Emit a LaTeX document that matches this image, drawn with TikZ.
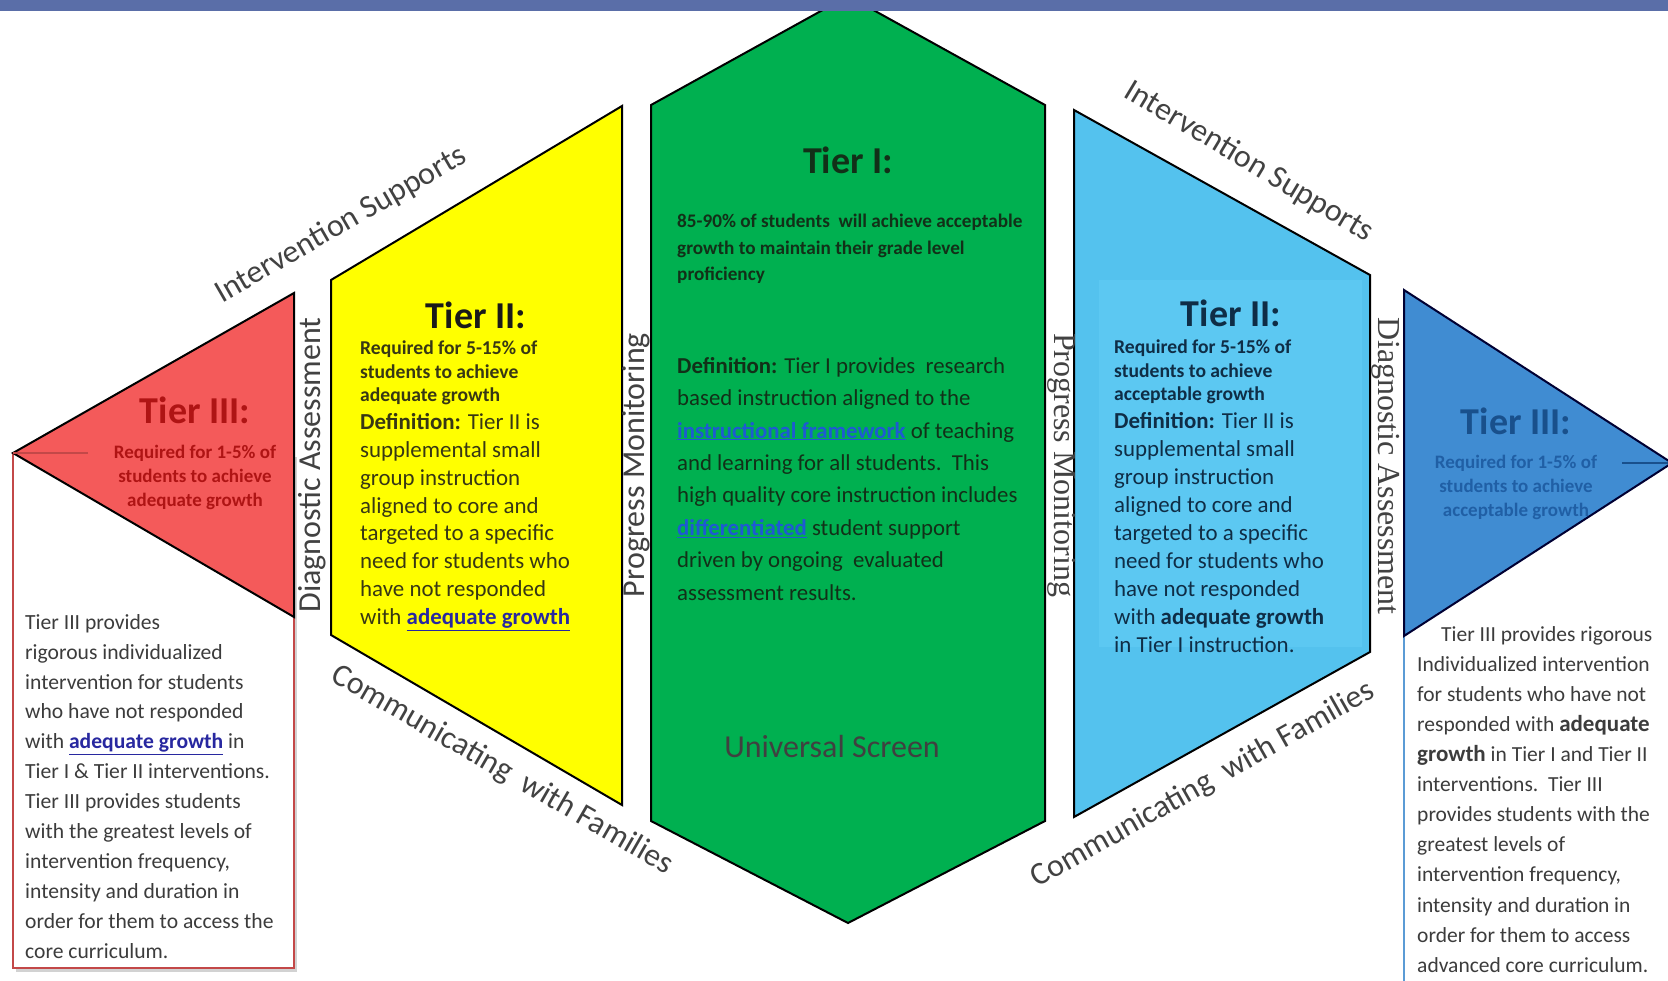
\documentclass[tikz,border=0pt]{standalone}
\usepackage{fontspec}
\setmainfont{Carlito}
\newfontfamily\serifl{Liberation Serif}
\usetikzlibrary{shadows}

\definecolor{tbar}{RGB}{90,110,168}
\definecolor{tgreen}{RGB}{0,176,80}
\definecolor{tyellow}{RGB}{255,255,0}
\definecolor{tlblue}{RGB}{84,194,238}
\definecolor{tlbox}{RGB}{92,200,242}
\definecolor{tred}{RGB}{244,90,90}
\definecolor{tdblue}{RGB}{64,140,210}
\definecolor{tgtext}{RGB}{18,48,24}
\definecolor{tglink}{RGB}{30,90,210}
\definecolor{tytext}{RGB}{55,55,20}
\definecolor{tylink}{RGB}{40,40,160}
\definecolor{tbtext}{RGB}{15,45,70}
\definecolor{trtext}{RGB}{175,20,20}
\definecolor{tdtext}{RGB}{25,80,140}
\definecolor{tdsub}{RGB}{32,95,165}
\definecolor{tboxtext}{RGB}{60,60,60}
\definecolor{tbline}{RGB}{91,155,213}

\newcommand{\fsz}[2]{\fontsize{#1}{#2}\selectfont}
\newcommand{\tierlink}[2]{{\color{#1}\bfseries\underline{#2}}}

\begin{document}
\begin{tikzpicture}[x=1pt,y=-1pt]
\tikzstyle{tier}=[draw=black,line width=2pt,line join=miter]
\tikzstyle{head}=[inner sep=0pt,font=\bfseries\fsz{38}{40}]
\tikzstyle{body}=[anchor=north west,align=left,inner sep=0pt]
\tikzstyle{side}=[inner sep=0pt,text=black!74,font=\fsz{32}{34}]

\clip (0,0) rectangle (1668,980);
\fill[white] (0,0) rectangle (1668,980);

% the five tiers
\draw[tier,fill=tgreen] (651,105) -- (848,-4) -- (1045,105) -- (1045,821) -- (848,923) -- (651,821) -- cycle;
\draw[tier,fill=tyellow] (331,280) -- (622,106) -- (622,805) -- (331,635) -- cycle;
\draw[tier,fill=tlblue] (1074,110) -- (1370,275) -- (1370,652) -- (1074,817) -- cycle;
\fill[tlbox] (1099,280) rectangle (1362,647);

\draw[draw=tred!80!black,line width=1.5pt,fill=white,drop shadow={shadow xshift=3pt,shadow yshift=-4pt,opacity=.35}] (13,453) rectangle (294,968);
\draw[tier,fill=tred] (13,453) -- (294,293) -- (294,617) -- cycle;
\draw[tred!80!black,line width=1.5pt] (13,453) -- (88,453);

\draw[tbline,line width=1.5pt,fill=white] (1404,463) rectangle (1720,1020);
\draw[tier,draw=black!80!blue,fill=tdblue] (1404,290) -- (1672,463) -- (1404,636) -- cycle;
\draw[tdtext,line width=1.5pt] (1622,463) -- (1668,463);

\fill[tbar] (0,0) rectangle (1668,11);

% Tier I
\node[head,text=tgtext] (t1) at (848,160) {Tier I:};
\node[body,text=tgtext,font=\bfseries\fsz{19.2}{26.6}] (t1req) at (677,214) {85-90\% of students\ \ will achieve acceptable\\growth to maintain their grade level\\proficiency};
\node[body,text=tgtext,font=\fsz{22.8}{32.4}] (t1def) at (677,357) {\textbf{Definition:} Tier I provides\ \ research\\based instruction aligned to the\\\tierlink{tglink}{instructional framework} of teaching\\and learning for all students.\ \ This\\high quality core instruction includes\\\tierlink{tglink}{differentiated} student support\\driven by ongoing\ \ evaluated\\assessment results.};
\node[inner sep=0pt,text=black!75,font=\fsz{32}{34}] (screen) at (832,746) {Universal Screen};

% Tier II left
\node[head,text=black!90] (t2l) at (476,315) {Tier II:};
\node[body,text=tytext,font=\bfseries\fsz{19.6}{23.4}] (t2lreq) at (360,341) {Required for 5-15\% of\\students to achieve\\adequate growth};
\node[body,text=tytext,font=\fsz{22.9}{27.9}] (t2ldef) at (360,413) {\textbf{Definition:} Tier II is\\supplemental small\\group instruction\\aligned to core and\\targeted to a specific\\need for students who\\have not responded\\with \tierlink{tylink}{adequate growth}};

% Tier II right
\node[head,text=tbtext] (t2r) at (1231,313) {Tier II:};
\node[body,text=tbtext,font=\bfseries\fsz{19.6}{23.4}] (t2rreq) at (1114,340) {Required for 5-15\% of\\students to achieve\\acceptable growth};
\node[body,text=tbtext,font=\fsz{22.9}{28}] (t2rdef) at (1114,412) {\textbf{Definition:} Tier II is\\supplemental small\\group instruction\\aligned to core and\\targeted to a specific\\need for students who\\have not responded\\with \textbf{adequate growth}\\in Tier I instruction.};

% Tier III left
\node[head,text=trtext] (t3l) at (195,410) {Tier III:};
\node[anchor=north,align=center,inner sep=0pt,text=trtext,font=\bfseries\fsz{19}{23.9}] (t3lreq) at (195,445) {Required for 1-5\% of\\students to achieve\\adequate growth};
\node[body,text=tboxtext,font=\fsz{21.6}{29.9}] (t3lbox) at (25,614) {Tier III provides\\rigorous individualized\\intervention for students\\who have not responded\\with \tierlink{tylink}{adequate growth} in\\Tier I \& Tier II interventions.\\Tier III provides students\\with the greatest levels of\\intervention frequency,\\intensity and duration in\\order for them to access the\\core curriculum.};

% Tier III right
\node[head,text=tdtext] (t3r) at (1516,421) {Tier III:};
\node[anchor=north,align=center,inner sep=0pt,text=tdsub,font=\bfseries\fsz{19}{23.9}] (t3rreq) at (1516,455) {Required for 1-5\% of\\students to achieve\\acceptable growth};
\node[body,text=tboxtext,font=\fsz{21.5}{30.1}] (t3rbox) at (1417,626) {\hspace*{24pt}Tier III provides rigorous\\Individualized intervention\\for students who have not\\responded with \textbf{\fsz{23}{30}adequate}\\\textbf{\fsz{23}{30}growth} in Tier I and Tier II\\interventions.\ \ Tier III\\provides students with the\\greatest levels of\\intervention frequency,\\intensity and duration in\\order for them to access\\advanced core curriculum.};

% labels round the tiers
\node[side,rotate=30] (isl) at (341,225) {Intervention Supports};
\node[side,rotate=-31] (isr) at (1249,162) {Intervention Supports};
\node[side,rotate=-30] (cfl) at (502,770) {Communicating\ \ with Families};
\node[side,rotate=29.5] (cfr) at (1203,785) {Communicating\ \ with Families};
\node[side,rotate=90] (dal) at (312,465) {Diagnostic Assessment};
\node[side,rotate=90] (pml) at (636,465) {Progress Monitoring};
\node[side,rotate=-90,font=\serifl\fsz{32}{34}] (pmr) at (1062,465) {Progress Monitoring};
\node[side,rotate=-90,font=\serifl\fsz{32}{34}] (dar) at (1386,466) {Diagnostic Assessment};

\end{tikzpicture}
\end{document}
